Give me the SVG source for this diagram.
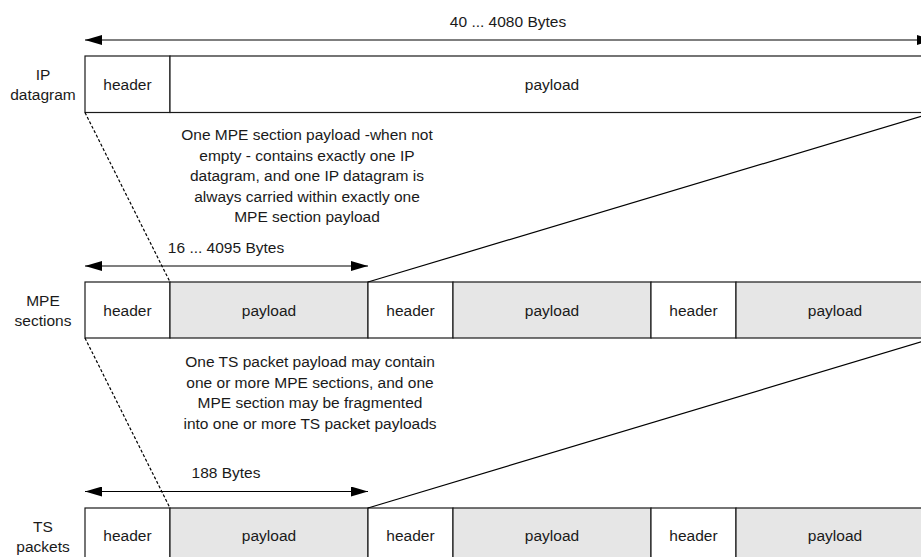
<svg xmlns="http://www.w3.org/2000/svg" width="921" height="557" viewBox="0 0 921 557">
  <style>
    text { font-family: "Liberation Sans", Arial, sans-serif; font-size: 15.5px; fill: #1a1a1a; text-anchor: middle; }
    .hdr { fill: #ffffff; stroke: #1a1a1a; stroke-width: 1.2; }
    .pay { fill: #e6e6e6; stroke: #1a1a1a; stroke-width: 1.2; }
    .payw { fill: #ffffff; stroke: #1a1a1a; stroke-width: 1.2; }
    .dash { stroke: #000; stroke-width: 1.2; stroke-dasharray: 3 2; fill: none; }
    .solid { stroke: #000; stroke-width: 1.2; fill: none; }
    .dim { stroke: #000; stroke-width: 1.2; fill: none; marker-start: url(#arr); marker-end: url(#arr); }
  </style>
  <defs>
    <marker id="arr" viewBox="0 0 17 10" refX="17" refY="5" markerWidth="17" markerHeight="10" markerUnits="userSpaceOnUse" orient="auto-start-reverse">
      <path d="M0,0 L17,5 L0,10 z" fill="#000"/>
    </marker>
  </defs>
  <rect x="0" y="0" width="921" height="557" fill="#ffffff"/>

  <!-- Row labels -->
  <g id="label-ip">
    <text x="43" y="80">IP</text>
    <text x="43" y="100">datagram</text>
  </g>
  <g id="label-mpe">
    <text x="43" y="306">MPE</text>
    <text x="43" y="326">sections</text>
  </g>
  <g id="label-ts">
    <text x="43" y="532">TS</text>
    <text x="43" y="552">packets</text>
  </g>

  <!-- IP datagram -->
  <g id="ip-header">
    <rect class="hdr" x="85" y="56" width="85" height="56.5"/>
    <text x="127.5" y="90">header</text>
  </g>
  <g id="ip-payload">
    <rect class="payw" x="170" y="56" width="764" height="56.5"/>
    <text x="552" y="90">payload</text>
  </g>

  <!-- MPE sections -->
  <g id="mpe-header-1">
    <rect class="hdr" x="85" y="282" width="85" height="56"/>
    <text x="127.5" y="316">header</text>
  </g>
  <g id="mpe-payload-1">
    <rect class="pay" x="170" y="282" width="198" height="56"/>
    <text x="269" y="316">payload</text>
  </g>
  <g id="mpe-header-2">
    <rect class="hdr" x="368" y="282" width="85" height="56"/>
    <text x="410.5" y="316">header</text>
  </g>
  <g id="mpe-payload-2">
    <rect class="pay" x="453" y="282" width="198" height="56"/>
    <text x="552" y="316">payload</text>
  </g>
  <g id="mpe-header-3">
    <rect class="hdr" x="651" y="282" width="85" height="56"/>
    <text x="693.5" y="316">header</text>
  </g>
  <g id="mpe-payload-3">
    <rect class="pay" x="736" y="282" width="198" height="56"/>
    <text x="835" y="316">payload</text>
  </g>

  <!-- TS packets -->
  <g id="ts-header-1">
    <rect class="hdr" x="85" y="508" width="85" height="56"/>
    <text x="127.5" y="541">header</text>
  </g>
  <g id="ts-payload-1">
    <rect class="pay" x="170" y="508" width="198" height="56"/>
    <text x="269" y="541">payload</text>
  </g>
  <g id="ts-header-2">
    <rect class="hdr" x="368" y="508" width="85" height="56"/>
    <text x="410.5" y="541">header</text>
  </g>
  <g id="ts-payload-2">
    <rect class="pay" x="453" y="508" width="198" height="56"/>
    <text x="552" y="541">payload</text>
  </g>
  <g id="ts-header-3">
    <rect class="hdr" x="651" y="508" width="85" height="56"/>
    <text x="693.5" y="541">header</text>
  </g>
  <g id="ts-payload-3">
    <rect class="pay" x="736" y="508" width="198" height="56"/>
    <text x="835" y="541">payload</text>
  </g>

  <!-- Connectors -->
  <g id="connectors">
    <line class="dash" x1="85" y1="112.5" x2="170" y2="282"/>
    <line class="solid" x1="368" y1="282" x2="934" y2="112.5"/>
    <line class="dash" x1="85" y1="338" x2="170" y2="508"/>
    <line class="solid" x1="368" y1="508" x2="934" y2="338"/>
    <line class="dim" x1="85" y1="40" x2="934" y2="40"/>
    <line class="dim" x1="85" y1="266" x2="368" y2="266"/>
    <line class="dim" x1="85" y1="491.5" x2="368" y2="491.5"/>
  </g>

  <!-- Dimension labels -->
  <g id="dim-labels">
    <text x="508" y="27">40 ... 4080 Bytes</text>
    <text x="226" y="253">16 ... 4095 Bytes</text>
    <text x="226" y="478">188 Bytes</text>
  </g>

  <!-- Notes -->
  <g id="note-1">
    <text x="307" y="140">One MPE section payload -when not</text>
    <text x="307" y="160.5">empty - contains exactly one IP</text>
    <text x="307" y="181">datagram, and one IP datagram is</text>
    <text x="307" y="201.5">always carried within exactly one</text>
    <text x="307" y="222">MPE section payload</text>
  </g>
  <g id="note-2">
    <text x="310" y="367">One TS packet payload may contain</text>
    <text x="310" y="387.5">one or more MPE sections, and one</text>
    <text x="310" y="408">MPE section may be fragmented</text>
    <text x="310" y="428.5">into one or more TS packet payloads</text>
  </g>
</svg>
